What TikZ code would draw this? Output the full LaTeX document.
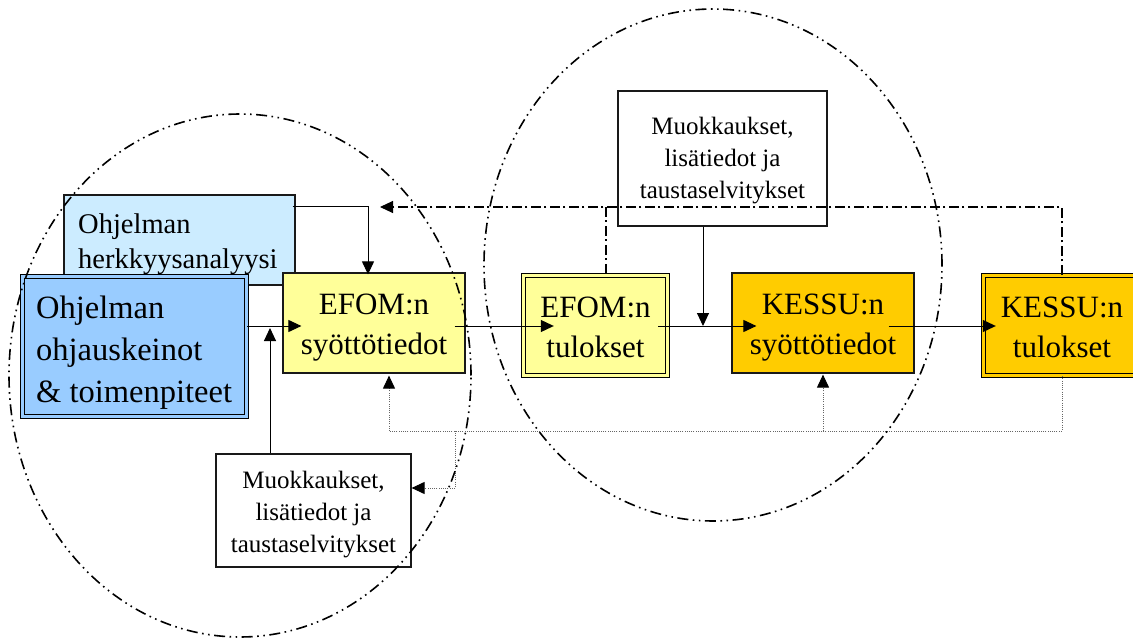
\documentclass[tikz,border=0pt]{standalone}
\usepackage{fontspec}
\setmainfont{Liberation Serif}
\usetikzlibrary{arrows.meta,calc}
\definecolor{dblue}{HTML}{99CCFF}
\definecolor{lblue}{HTML}{CCECFF}
\definecolor{lyel}{HTML}{FFFF99}
\definecolor{orng}{HTML}{FFCC00}
\begin{document}
\begin{tikzpicture}[x=1pt,y=-1pt,
  box/.style={draw=black!90, line width=1.2pt, inner sep=0pt, rectangle},
  dbox/.style={draw=black, line width=1.4pt, double distance=2.2pt, inner sep=0pt, rectangle},
  txt/.style={inner sep=0pt, align=center},
  big/.style={font=\fontsize{32.5}{42}\selectfont},
  mid/.style={font=\fontsize{31}{40}\selectfont},
  lbt/.style={font=\fontsize{28.5}{35}\selectfont},
  sml/.style={font=\fontsize{25}{32}\selectfont},
  tip/.style={-{Triangle[length=13pt,width=12pt,black]}},
  arr/.style={line width=1pt, tip},
  dotl/.style={line width=1pt, black!60, dash pattern=on 1pt off 1.2pt},
  dotarr/.style={dotl, tip},
  dashdot/.style={line width=1.2pt, dash pattern=on 10pt off 3.5pt on 2pt off 3.5pt},
  ellip/.style={line width=1.6pt, dash pattern=on 11pt off 4.5pt on 1.6pt off 4.5pt on 1.6pt off 4.5pt}
]
\fill[white] (0,0) rectangle (1133,639);
\useasboundingbox (0,0) rectangle (1133,639);

% boxes
\node[box, fill=lblue, minimum width=231pt, minimum height=90pt] (lb) at (179.5,240) {};
\node[dbox, fill=dblue, double=dblue, minimum width=224pt, minimum height=140pt] (ohj) at (134.5,346.5) {};
\node[box, fill=lyel, minimum width=182pt, minimum height=100pt] (e1) at (374,323) {};
\node[dbox, fill=lyel, double=lyel, minimum width=144pt, minimum height=100pt] (e2) at (595.5,325.5) {};
\node[box, fill=orng, minimum width=182pt, minimum height=100pt] (ks) at (823,323) {};
\node[dbox, fill=orng, double=orng, minimum width=157pt, minimum height=100pt] (kt) at (1062,325.5) {};
\node[box, fill=white, minimum width=209pt, minimum height=135pt] (mk) at (722.5,158.5) {};
\node[box, fill=white, minimum width=195pt, minimum height=113pt] (bot) at (313.5,510.5) {};

% texts
\node[txt, lbt, align=left, anchor=west] (lbT) at (78,244) {Ohjelman\\herkkyysanalyysi};
\node[txt, big, align=left, anchor=west] (ohjT) at (36,352.5) {Ohjelman\\ohjauskeinot\\\& toimenpiteet};
\node[txt, mid] (e1T) at (374,328) {EFOM:n\\syöttötiedot};
\node[txt, mid] (e2T) at (595.5,327) {EFOM:n\\tulokset};
\node[txt, mid] (ksT) at (823,328) {KESSU:n\\syöttötiedot};
\node[txt, mid] (ktT) at (1062,327) {KESSU:n\\tulokset};
\node[txt, sml] (mkT) at (722.5,161) {Muokkaukset,\\lisätiedot ja\\taustaselvitykset};
\node[txt, sml] (botT) at (313.5,515) {Muokkaukset,\\lisätiedot ja\\taustaselvitykset};

% level coordinates
\coordinate (lvl) at (0,326);
\coordinate (top) at (0,207);
\coordinate (dl) at (0,431);
\coordinate (dd) at (0,488);

% solid arrows
\draw[arr] (ohj.east |- lvl) -- ($(e1.west |- lvl)+(19,0)$);
\draw[arr] ($(e1.east |- lvl)+(-11,0)$) -- ($(e2.west |- lvl)+(31,0)$);
\draw[arr] ($(e2.east |- lvl)+(-10,0)$) -- ($(ks.west |- lvl)+(25,0)$);
\draw[arr] ($(ks.east |- lvl)+(-26,0)$) -- ($(kt.west |- lvl)+(13,0)$);
\draw[arr] ($(lb.east |- top)+(-3,0)$) -| ($(e1.north)+(-6,2)$);
\coordinate (botup) at ($(bot.north)+(-43.5,0)$);
\draw[arr] (botup) -- (botup |- 0,328);
\coordinate (mkdn) at ($(mk.south)+(-19.5,0)$);
\draw[arr] (mkdn) -- (mkdn |- lvl);

% dotted feedback
\coordinate (e1d) at ($(e1.south)+(15,0)$);
\coordinate (split) at (455,431);
\draw[dotl] (kt.south) -- (kt.south |- dl) -- (e1d |- dl);
\draw[dotarr] (e1d |- dl) -- ($(e1d)+(0,2)$);
\draw[dotarr] (ks.south |- dl) -- ($(ks.south)+(0,1)$);
\draw[dotl] (split) -- (split |- dd);
\draw[dotarr] (split |- dd) -- (bot.east |- dd);

% dash-dot feedback
\draw[dashdot] (kt.north) -- (kt.north |- top) -- ($(e1.north |- top)+(12,0)$);
\draw[arr] ($(e1.north |- top)+(13,0)$) -- ($(e1.north |- top)+(6,0)$);
\coordinate (e2up) at ($(e2.north)+(10.5,0)$);
\draw[dashdot] (e2up |- top) -- (e2up);

% ellipses
\draw[ellip] (240,375.5) ellipse [x radius=231pt, y radius=261.5pt];
\draw[ellip] (713,265) ellipse [x radius=229pt, y radius=256pt];
\end{tikzpicture}
\end{document}
